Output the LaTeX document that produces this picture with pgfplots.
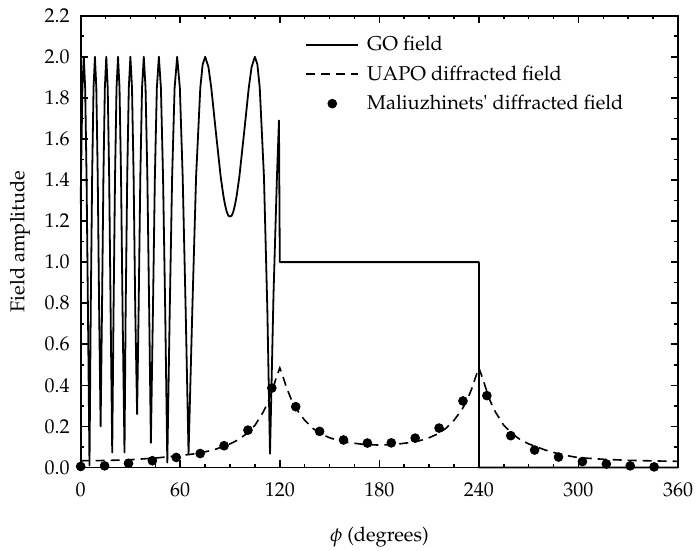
\documentclass[border=0pt]{standalone}
\usepackage[T1]{fontenc}
\usepackage{mathpazo}
\usepackage{pgfplots}
\pgfplotsset{compat=1.18}
\pgfplotsset{
  linelegend/.style={legend image code/.code={\draw[##1] (0pt,0pt) -- (26pt,0pt);}},
  dotlegend/.style={legend image code/.code={\path[draw=none] (0pt,0pt) -- (26pt,0pt); \fill[black] (13pt,0pt) circle (2.2pt);}},
}
\begin{document}
\begin{tikzpicture}
\begin{axis}[
 scale only axis, width=298.65pt, height=225.9pt,
 xmin=0, xmax=360, ymin=0, ymax=2.2,
 xtick={0,60,120,180,240,300,360}, minor x tick num=3,
 ytick={0,0.2,0.4,0.6,0.8,1.0,1.2,1.4,1.6,1.8,2.0,2.2}, minor y tick num=1,
 tick pos=both, tick align=inside,
 major tick length=3.5pt, minor tick length=1.8pt,
 every tick/.style={black, line width=0.8pt},
 axis line style={line width=0.9pt},
 yticklabel style={xshift=-2pt, /pgf/number format/fixed, /pgf/number format/fixed zerofill, /pgf/number format/precision=1},
 xticklabel style={yshift=-4pt},
 clip=false,
 xlabel={$\phi$ (degrees)}, ylabel={Field amplitude},
 every axis x label/.style={at={([yshift=-34.75pt]axis description cs:0.5,0)}, anchor=center},
 every axis y label/.style={at={([xshift=-30.35pt]axis description cs:0,0.5)}, anchor=center, rotate=90},
 legend cell align=left,
 legend style={draw=none, fill=none, at={(axis description cs:0.3755,0.9695)}, anchor=north west,
   inner sep=0pt, row sep=0pt, column sep=4pt,
   nodes={inner sep=0pt, text height=10.5pt, text depth=4.25pt}},
]
\addplot[black, line width=0.9pt, line join=round, linelegend] coordinates {
(0,1.284) (0.188,1.4142) (1.024,1.8478) (1.860,2.0) (2.696,1.8478) (3.533,1.4142) (4.371,0.7654)
(5.3,0.01) (6.050,0.7654) (6.891,1.4142) (7.733,1.8478) (8.578,2.0) (9.424,1.8478) (10.272,1.4142) (11.123,0.7654)
(12.0,0.20) (12.832,0.7654) (13.691,1.4142) (14.553,1.8478) (15.418,2.0) (16.287,1.8478) (17.159,1.4142) (18.036,0.7654)
(19.0,0.073) (19.804,0.7654) (20.695,1.4142) (21.591,1.8478) (22.493,2.0) (23.400,1.8478) (24.314,1.4142) (25.234,0.7654)
(26.4,0.073) (27.097,0.7654) (28.039,1.4142) (28.990,1.8478) (29.951,2.0) (30.920,1.8478) (31.900,1.4142) (32.889,0.7654)
(34.0,0.26) (34.903,0.7654) (35.929,1.4142) (36.967,1.8478) (38.021,2.0) (39.090,1.8478) (40.176,1.4142) (41.279,0.7654)
(42.3,0.12) (43.544,0.7654) (44.708,1.4142) (45.896,1.8478) (47.110,2.0) (48.354,1.8478) (49.628,1.4142) (50.934,0.7654)
(52.2,0.024) (53.669,0.7654) (55.104,1.4142) (56.594,1.8478) (58.143,2.0) (59.764,1.8478) (61.469,1.4142) (63.270,0.7654)
(65.0,0.067) (67.268,0.7654) (69.539,1.4142) (72.077,1.8478) (73.5,1.962) (75.027,2.0) (77.0,1.950) (78.715,1.8478)
(81.5,1.631) (84.40,1.4142) (86,1.323) (87,1.279) (88,1.246) (89,1.226) (90,1.222) (91,1.226) (92,1.246) (93,1.279)
(94,1.323) (95.60,1.4142) (98.5,1.631) (101.285,1.8478) (103.0,1.950) (104.973,2.0) (106.5,1.962) (107.923,1.8478)
(110.461,1.4142) (112.5,0.7654) (114.1,0.067) (116.2,0.84) (118.3,1.42) (119.5,1.69) (120,1.0)
(240,1.0) (240,0) (360,0)
};
\addlegendentry{GO field}
\addplot[black, line width=0.8pt, dash pattern=on 4.5pt off 3pt, linelegend] coordinates {
(0,0.033) (15,0.034) (30,0.038) (45,0.046) (60,0.058) (70,0.068) (80,0.085) (90,0.115) (95,0.135)
(100,0.165) (105,0.205) (110,0.27) (113,0.32) (116,0.39) (118,0.44) (120,0.485) (122,0.44) (124,0.39)
(127,0.33) (130,0.285) (135,0.23) (140,0.19) (145,0.163) (150,0.145) (155,0.132) (160,0.123) (170,0.113)
(180,0.109) (190,0.113) (200,0.123) (205,0.132) (210,0.145) (215,0.163) (220,0.19) (225,0.23) (230,0.285)
(233,0.33) (236,0.39) (238,0.44) (240,0.485) (242,0.44) (244,0.39) (247,0.32) (250,0.27) (255,0.205)
(260,0.165) (265,0.135) (270,0.115) (280,0.085) (290,0.062) (300,0.048) (315,0.040) (330,0.035) (345,0.032) (360,0.030)
};
\addlegendentry{UAPO diffracted field}
\addplot[only marks, mark=*, mark size=2.2pt, black, dotlegend] coordinates {
(0,0.005) (14.4,0.008) (28.8,0.020) (43.2,0.033) (57.6,0.049) (72,0.068) (86.4,0.106) (100.8,0.182)
(115.2,0.387) (129.6,0.296) (144,0.176) (158.4,0.134) (172.8,0.119) (187.2,0.120) (201.6,0.143)
(216,0.192) (230.4,0.324) (244.8,0.350) (259.2,0.155) (273.6,0.085) (288,0.051) (302.4,0.029)
(316.8,0.017) (331.2,0.008) (345.6,0.003)
};
\addlegendentry{Maliuzhinets\textquotesingle{} diffracted field}
\end{axis}
\pgfresetboundingbox
\path ([shift={(-40.35pt,-41.75pt)}]current axis.south west) rectangle ([shift={(9pt,7.85pt)}]current axis.north east);
\end{tikzpicture}
\end{document}
